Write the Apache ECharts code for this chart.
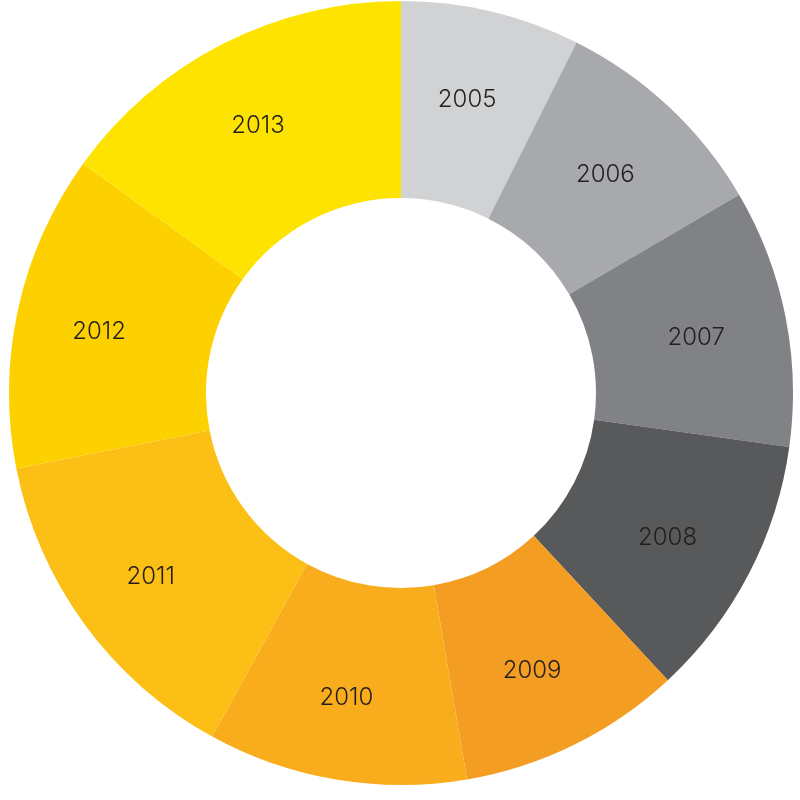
<!DOCTYPE html>
<html>
<head>
<meta charset="utf-8">
<title>Donut by year</title>
<script src="https://cdn.jsdelivr.net/npm/echarts@6/dist/echarts.min.js"></script>
<style>
  html, body { margin: 0; padding: 0; background: #fff; }
  #chart { width: 800px; height: 800px; }
</style>
</head>
<body>
<div id="chart"></div>
<script>
// ---------------------------------------------------
// Data (slice share in degrees)
// ---------------------------------------------------
const years = ["2005", "2006", "2007", "2008", "2009", "2010", "2011", "2012", "2013"];
const shares = [26.6, 33.0, 38.3, 39.2, 33.2, 38.5, 50.1, 46.9, 54.2];
const colors = ["#d1d2d4", "#a7a9ac", "#808285", "#58595b", "#f49d23",
                "#f9ad1d", "#fbbf16", "#fdd100", "#ffe300"];

const chart = echarts.init(document.getElementById("chart"));

const common = {
  type: "pie",
  startAngle: 90,
  clockwise: true,
  avoidLabelOverlap: false,
  labelLine: { show: false }
};

chart.setOption({
  animation: false,
  series: [
    // the ring itself
    {
      ...common,
      center: [401, 393],
      radius: [195, 392],
      itemStyle: { borderWidth: 0 },
      label: { show: false },
      data: years.map((y, i) => ({
        name: y,
        value: shares[i],
        itemStyle: { color: colors[i] }
      }))
    },
    // invisible copy, only used to sit the labels a bit further out
    {
      ...common,
      center: [397, 397],
      radius: [206, 398],
      silent: true,
      itemStyle: { color: "transparent", borderWidth: 0 },
      label: {
        show: true,
        position: "inside",
        formatter: "{b}",
        color: "#231f20",
        fontFamily: "Inter",
        fontWeight: 300,
        fontSize: 24
      },
      data: years.map((y, i) => ({ name: y, value: shares[i] }))
    }
  ]
});
</script>
</body>
</html>
